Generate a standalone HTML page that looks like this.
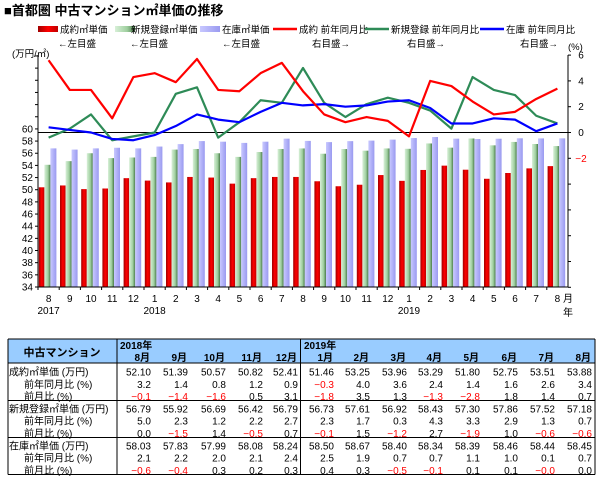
<!DOCTYPE html>
<html><head><meta charset="utf-8"><style>
body{margin:0;background:#fff;width:600px;height:483px;overflow:hidden}
svg{display:block;font-family:"Liberation Sans","Noto Sans CJK JP",sans-serif}
</style></head><body>
<svg id="s" width="600" height="483" xmlns="http://www.w3.org/2000/svg">
<defs>
<linearGradient id="gr" x1="0" x2="1"><stop offset="0" stop-color="#a00000"/><stop offset="0.5" stop-color="#ff0000"/><stop offset="1" stop-color="#c00000"/></linearGradient>
<linearGradient id="gg" x1="0" x2="1"><stop offset="0" stop-color="#d8f0d8"/><stop offset="0.6" stop-color="#9fcf9f"/><stop offset="1" stop-color="#4a7a4a"/></linearGradient>
<linearGradient id="gb" x1="0" x2="1"><stop offset="0" stop-color="#c8c8ff"/><stop offset="1" stop-color="#9a9af0"/></linearGradient>
</defs>
<text x="4" y="15" font-size="13" font-weight="bold">■首都圏 中古マンション㎡単価の推移</text>
<g font-size="9.5">
<rect x="38" y="26" width="20" height="6" fill="url(#gr)"/><text x="60" y="33">成約㎡単価</text>
<rect x="115" y="26" width="20" height="6" fill="url(#gg)"/><text x="131" y="33">新規登録㎡単価</text>
<rect x="200" y="26" width="20" height="6" fill="url(#gb)"/><text x="222" y="33">在庫㎡単価</text>
<line x1="273" y1="29" x2="297" y2="29" stroke="#f00" stroke-width="2.5"/><text x="299" y="33">成約 前年同月比</text>
<line x1="365" y1="29" x2="389" y2="29" stroke="#2e8b57" stroke-width="2.5"/><text x="391" y="33">新規登録 前年同月比</text>
<line x1="480" y1="29" x2="504" y2="29" stroke="#00f" stroke-width="2.5"/><text x="506" y="33">在庫 前年同月比</text>
<text x="58" y="47">←左目盛</text><text x="130" y="47">←左目盛</text><text x="222" y="47">←左目盛</text>
<text x="312" y="47">右目盛→</text><text x="407" y="47">右目盛→</text><text x="520" y="47">右目盛→</text>
<text x="568" y="50">(%)</text><text x="12" y="57">(万円/㎡)</text>
</g>
<g id="chart"></g>
<g id="tbl"></g>
</svg>
<script>
const ns="http://www.w3.org/2000/svg";
function el(p,t,a,txt){const e=document.createElementNS(ns,t);for(const k in a)e.setAttribute(k,a[k]);if(txt!==undefined)e.textContent=txt;p.appendChild(e);return e;}
const C=document.getElementById('chart');
const x0=38,x1=568,n=25,cw=(x1-x0)/n;
const yL=v=>287-(v-34)*6.08, yR=v=>132.5-v*12.9;
const red=[50.4,50.7,50.1,50.2,51.9,51.5,51.2,52.1,52.0,51.0,51.9,52.1,52.10,51.39,50.57,50.82,52.41,51.46,53.25,53.96,53.29,51.80,52.75,53.51,53.88];
const grn=[54.1,54.7,56.0,55.2,55.3,55.4,56.6,56.7,56.0,55.4,56.2,56.7,56.79,55.92,56.69,56.42,56.79,56.73,57.61,56.92,58.43,57.30,57.86,57.52,57.18];
const blu=[56.8,56.6,56.8,56.9,56.8,57.1,57.5,58.0,57.9,57.7,57.9,58.4,58.03,57.83,57.99,58.08,58.24,58.50,58.67,58.40,58.34,58.39,58.46,58.44,58.45];
const lr=[5.6,3.3,3.3,1.1,4.3,4.6,3.9,5.7,3.3,3.2,4.6,5.4,3.2,1.4,0.8,1.2,0.9,-0.3,4.0,3.6,2.4,1.4,1.6,2.6,3.4];
const lg=[-0.4,0.3,1.4,-0.6,-0.3,0.0,3.0,3.5,-0.4,0.8,2.5,2.3,5.0,2.3,1.2,2.2,2.7,2.3,1.7,0.3,4.3,3.3,2.9,1.3,0.7];
const lb=[0.4,0.2,0.0,-0.5,-0.6,-0.2,0.5,1.4,1.0,0.8,1.6,2.3,2.1,2.2,2.0,2.1,2.4,2.5,1.9,0.7,0.7,1.1,1.0,0.1,0.7];
for(let i=0;i<n;i++){const bx=x0+i*cw;
el(C,'rect',{x:bx+0.8,y:yL(red[i]),width:5.6,height:287-yL(red[i]),fill:'url(#gr)'});
el(C,'rect',{x:bx+6.4,y:yL(grn[i]),width:6,height:287-yL(grn[i]),fill:'url(#gg)'});
el(C,'rect',{x:bx+12.4,y:yL(blu[i]),width:6,height:287-yL(blu[i]),fill:'url(#gb)'});}
el(C,'line',{x1:x0,y1:55,x2:x0,y2:287,stroke:'#000','stroke-width':1});
el(C,'line',{x1:x1,y1:55,x2:x1,y2:287,stroke:'#000','stroke-width':1});
el(C,'line',{x1:x0,y1:287,x2:x1,y2:287,stroke:'#000','stroke-width':1});
el(C,'line',{x1:x0,y1:132.5,x2:x1,y2:132.5,stroke:'#000','stroke-width':1});
for(let v=34;v<=72;v+=2){const y=yL(v);el(C,'line',{x1:x0-3,y1:y,x2:x0,y2:y,stroke:'#000'});
if(v<=60)el(C,'text',{x:x0-5,y:y+3.5,'font-size':10,'text-anchor':'end'},v);}
for(let v=-12;v<=6;v+=2){const y=yR(v);el(C,'line',{x1:x1,y1:y,x2:x1+3,y2:y,stroke:'#000'});
if(v>=-2)el(C,'text',{x:x1+13,y:y+3.5,'font-size':10,'text-anchor':'middle',fill:v<0?'#f00':'#000'},v<0?'−'+(-v):v);}
const mo=[8,9,10,11,12,1,2,3,4,5,6,7,8,9,10,11,12,1,2,3,4,5,6,7,8];
for(let i=0;i<n;i++){const cx=x0+(i+0.5)*cw;el(C,'text',{x:cx,y:302,'font-size':10,'text-anchor':'middle'},mo[i]);
el(C,'line',{x1:x0+i*cw,y1:287,x2:x0+i*cw,y2:290,stroke:'#000'});}
[[0,'2017'],[5,'2018'],[17,'2019']].forEach(([i,t])=>el(C,'text',{x:x0+(i+0.5)*cw,y:314,'font-size':10,'text-anchor':'middle'},t));
el(C,'text',{x:563,y:302,'font-size':10},'月');el(C,'text',{x:563,y:316,'font-size':10},'年');
function line(d,c){el(C,'polyline',{points:d.map((v,i)=>(x0+(i+0.5)*cw)+','+yR(v)).join(' '),fill:'none',stroke:c,'stroke-width':2.2,'stroke-linejoin':'round'});}
line(lg,'#2e8b57');line(lb,'#0000ff');line(lr,'#ff0000');
const T=document.getElementById('tbl');
el(T,'rect',{x:8,y:339,width:587,height:24,fill:'#99ccff'});
el(T,'text',{x:62,y:356,'font-size':11,'font-weight':'bold','text-anchor':'middle'},'中古マンション');
el(T,'text',{x:120,y:349,'font-size':10,'font-weight':'bold'},'2018年');
el(T,'text',{x:304,y:349,'font-size':10,'font-weight':'bold'},'2019年');
const rights=[151,188,226,263,298,334,370,407,443,480,518,555,592];
const ms=['8月','9月','10月','11月','12月','1月','2月','3月','4月','5月','6月','7月','8月'];
ms.forEach((m,i)=>el(T,'text',{x:rights[i]-1,y:361,'font-size':10,'font-weight':'bold','text-anchor':'end'},m));
const rows=[
['成約㎡単価 (万円)',0,['52.10','51.39','50.57','50.82','52.41','51.46','53.25','53.96','53.29','51.80','52.75','53.51','53.88']],
['前年同月比 (%)',1,['3.2','1.4','0.8','1.2','0.9','−0.3','4.0','3.6','2.4','1.4','1.6','2.6','3.4']],
['前月比 (%)',1,['−0.1','−1.4','−1.6','0.5','3.1','−1.8','3.5','1.3','−1.3','−2.8','1.8','1.4','0.7']],
['新規登録㎡単価 (万円)',0,['56.79','55.92','56.69','56.42','56.79','56.73','57.61','56.92','58.43','57.30','57.86','57.52','57.18']],
['前年同月比 (%)',1,['5.0','2.3','1.2','2.2','2.7','2.3','1.7','0.3','4.3','3.3','2.9','1.3','0.7']],
['前月比 (%)',1,['0.0','−1.5','1.4','−0.5','0.7','−0.1','1.5','−1.2','2.7','−1.9','1.0','−0.6','−0.6']],
['在庫㎡単価 (万円)',0,['58.03','57.83','57.99','58.08','58.24','58.50','58.67','58.40','58.34','58.39','58.46','58.44','58.45']],
['前年同月比 (%)',1,['2.1','2.2','2.0','2.1','2.4','2.5','1.9','0.7','0.7','1.1','1.0','0.1','0.7']],
['前月比 (%)',1,['−0.6','−0.4','0.3','0.2','0.3','0.4','0.3','−0.5','−0.1','0.1','0.1','−0.0','0.0']]];
rows.forEach((r,k)=>{const y=375.5+k*12.3;
el(T,'text',{x:r[1]?24:9,y:y,'font-size':10,textLength:r[1]?undefined:undefined},r[0]);
r[2].forEach((v,i)=>el(T,'text',{x:rights[i],y:y,'font-size':10,'text-anchor':'end',fill:v[0]=='−'?'#f00':'#000'},v));});
[339,363,400.5,437.5,474.5].forEach(y=>el(T,'line',{x1:8,y1:y,x2:595,y2:y,stroke:'#000','stroke-width':1}));
[8,117,300.5,595].forEach(x=>el(T,'line',{x1:x,y1:339,x2:x,y2:474.5,stroke:'#000','stroke-width':1}));
</script>
</body></html>
